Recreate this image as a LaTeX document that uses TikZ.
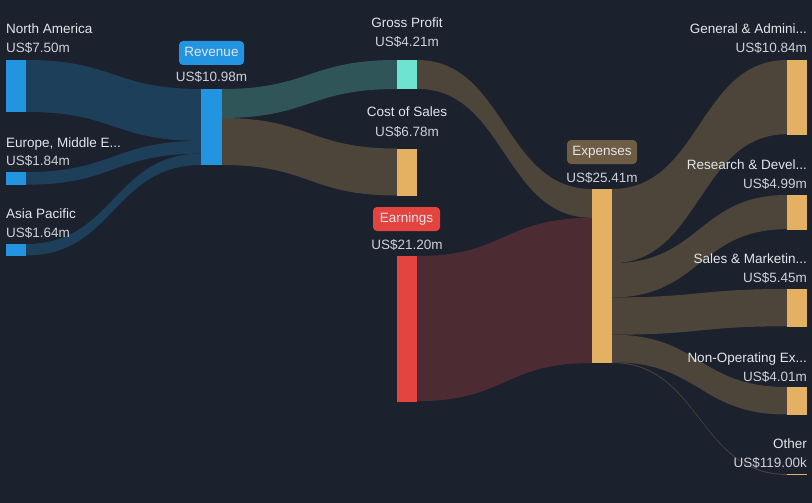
\documentclass[tikz,border=0pt]{standalone}
\usepackage{fontspec}
\setmainfont{Liberation Sans}
\usetikzlibrary{calc}
\definecolor{bg}{HTML}{1C212E}
\definecolor{cblue}{HTML}{2394DF}
\definecolor{cmint}{HTML}{6DE3D1}
\definecolor{cgold}{HTML}{E4B062}
\definecolor{cred}{HTML}{E34440}
\definecolor{fblue}{HTML}{1E3F5A}
\definecolor{fteal}{HTML}{2F5558}
\definecolor{fbrown}{HTML}{4D4539}
\definecolor{fmaroon}{HTML}{4D2B33}
\definecolor{bexp}{HTML}{6E5C45}
\definecolor{txt}{HTML}{E2E5E9}
\definecolor{txtv}{HTML}{CDD1D7}
\newcommand\sflow[6]{%
  \fill[#1] ($(#2.north east)+(0,#3)$) .. controls +(88,0) and +(-88,0) .. ($(#4.north west)+(0,#5)$)
    -- ++(0,#6) .. controls +(-88,0) and +(88,0) .. ($(#2.north east)+(0,{#3+#6})$) -- cycle;}
\begin{document}
\begin{tikzpicture}[x=1pt,y=-1pt,
  font=\fontsize{13.5}{16}\selectfont,
  bar/.style={rectangle, inner sep=0pt, minimum width=20pt, anchor=north, draw=none},
  lbl/.style={text=txt, inner sep=0pt},
  val/.style={text=txtv, inner sep=0pt},
  tag/.style={rectangle, rounded corners=4pt, inner sep=0pt, minimum height=24pt,
    text=txt, text height=10pt, text depth=3pt}]
\fill[bg] (0,0) rectangle (812,503);
\useasboundingbox (0,0) rectangle (812,503);
% bars
\node[bar, fill=cblue, minimum height=51.9pt] (na) at (16,60) {};
\node[bar, fill=cblue, minimum height=12.7pt] (eu) at (16,172) {};
\node[bar, fill=cblue, minimum height=11.4pt] (ap) at (16,244) {};
\node[bar, fill=cblue, minimum height=76pt] (rev) at (211.5,89) {};
\node[bar, fill=cmint, minimum height=29pt] (gp) at (407,60) {};
\node[bar, fill=cgold, minimum height=47pt] (cos) at (407,148.5) {};
\node[bar, fill=cred, minimum height=145.2pt] (earn) at (407,256) {};
\node[bar, fill=cgold, minimum height=174pt] (exp) at (602,189) {};
\node[bar, fill=cgold, minimum height=74.2pt] (ga) at (797,60) {};
\node[bar, fill=cgold, minimum height=34.2pt] (rd) at (797,195) {};
\node[bar, fill=cgold, minimum height=37.3pt] (sm) at (797,289) {};
\node[bar, fill=cgold, minimum height=27.5pt] (no) at (797,387) {};
\node[bar, fill=cgold, minimum height=0.9pt] (ot) at (797,474) {};
% flows
\begin{scope}[on background layer/.style={}]
\sflow{fblue}{na}{0}{rev}{0}{51.9}
\sflow{fblue}{eu}{0}{rev}{51.9}{12.7}
\sflow{fblue}{ap}{0}{rev}{64.6}{11.4}
\sflow{fteal}{rev}{0}{gp}{0}{29}
\sflow{fbrown}{rev}{29}{cos}{0}{47}
\sflow{fbrown}{gp}{0}{exp}{0}{28.8}
\sflow{fmaroon}{earn}{0}{exp}{28.8}{145.2}
\sflow{fbrown}{exp}{0}{ga}{0}{74.2}
\sflow{fbrown}{exp}{74.2}{rd}{0}{34.2}
\sflow{fbrown}{exp}{108.4}{sm}{0}{37.3}
\sflow{fbrown}{exp}{145.7}{no}{0}{27.5}
\sflow{fbrown}{exp}{173.2}{ot}{0}{0.9}
\end{scope}
% redraw bars on top
\foreach \n/\c in {na/cblue,eu/cblue,ap/cblue,rev/cblue,gp/cmint,cos/cgold,earn/cred,exp/cgold,ga/cgold,rd/cgold,sm/cgold,no/cgold,ot/cgold}
  \fill[\c] (\n.north west) rectangle (\n.south east);
% left labels
\node[lbl, anchor=base west] (tna) at (6,34) {North America};
\node[val, anchor=base west] (vna) at (6,53) {US\$7.50m};
\node[lbl, anchor=base west] (teu) at (6,147) {Europe, Middle E...};
\node[val, anchor=base west] (veu) at (6,165) {US\$1.84m};
\node[lbl, anchor=base west] (tap) at (6,218) {Asia Pacific};
\node[val, anchor=base west] (vap) at (6,237) {US\$1.64m};
% middle labels
\node[tag, fill=cblue, minimum width=65pt] (trev) at (211.5,53) {Revenue};
\node[val, anchor=base] (vrev) at (211.5,82) {US\$10.98m};
\node[lbl, anchor=base] (tgp) at (407,28) {Gross Profit};
\node[val, anchor=base] (vgp) at (407,47) {US\$4.21m};
\node[lbl, anchor=base] (tcos) at (407,117) {Cost of Sales};
\node[val, anchor=base] (vcos) at (407,136) {US\$6.78m};
\node[tag, fill=cred, minimum width=67pt] (tearn) at (406.5,219) {Earnings};
\node[val, anchor=base] (vearn) at (407,249) {US\$21.20m};
\node[tag, fill=bexp, minimum width=70pt] (texp) at (602,152) {Expenses};
\node[val, anchor=base] (vexp) at (602,182) {US\$25.41m};
% right labels
\node[lbl, anchor=base east] (tga) at (807,34) {General \& Admini...};
\node[val, anchor=base east] (vga) at (807,53) {US\$10.84m};
\node[lbl, anchor=base east] (trd) at (807,169) {Research \& Devel...};
\node[val, anchor=base east] (vrd) at (807,188) {US\$4.99m};
\node[lbl, anchor=base east] (tsm) at (807,263) {Sales \& Marketin...};
\node[val, anchor=base east] (vsm) at (807,282) {US\$5.45m};
\node[lbl, anchor=base east] (tno) at (807,362) {Non-Operating Ex...};
\node[val, anchor=base east] (vno) at (807,381) {US\$4.01m};
\node[lbl, anchor=base east] (tot) at (807,448) {Other};
\node[val, anchor=base east] (vot) at (807,467) {US\$119.00k};
\end{tikzpicture}
\end{document}
